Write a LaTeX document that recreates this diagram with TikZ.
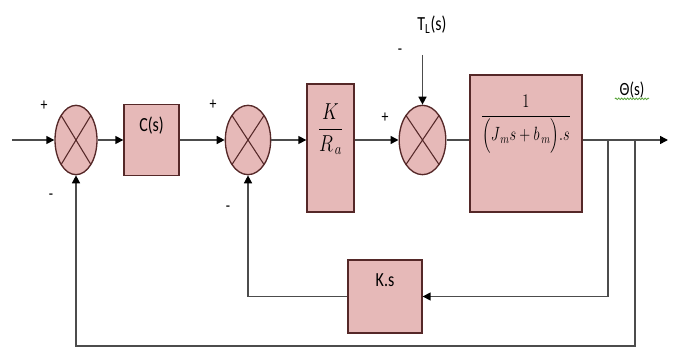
\documentclass[tikz,border=0pt]{standalone}
\usepackage{amsmath}
\usepackage{fontspec}
\setmainfont{Carlito}[FakeStretch=0.8]
\usetikzlibrary{shapes.geometric,arrows.meta,decorations.pathmorphing}
\definecolor{blkfill}{RGB}{230,185,184}
\definecolor{blkline}{RGB}{85,40,40}
\definecolor{wireline}{gray}{0.3}
\definecolor{spellcol}{RGB}{90,165,60}
\tikzset{
  sumj/.style={ellipse,draw=blkline,fill=blkfill,line width=1pt,inner sep=0pt,minimum width=34pt,minimum height=52pt,
    path picture={\draw[blkline,line width=0.8pt] (path picture bounding box.north west) -- (path picture bounding box.south east)
      (path picture bounding box.north east) -- (path picture bounding box.south west);}},
  blk/.style={draw=blkline,fill=blkfill,line width=1pt,inner sep=0pt},
  wire/.style={draw=wireline,line width=1.1pt},
  arr/.style={wire,-{Triangle[length=6pt,width=6pt,color=black]}},
  txt/.style={font=\fontsize{15}{17}\selectfont},
  sgn/.style={font=\fontsize{13}{15}\selectfont},
}
\begin{document}
\begin{tikzpicture}[x=0.75pt,y=-0.75pt]
  \useasboundingbox (0,0) rectangle (678,349);
  \node[sumj,minimum width=31.5pt] (s1) at (76,140) {};
  \node[blk,txt,minimum width=41.25pt,minimum height=53.25pt,text height=9pt,text depth=21.4pt] (cs) at (151.5,140) {C(s)};
  \node[sumj] (s2) at (248,140) {};
  \node[blk,font=\LARGE,minimum width=35.25pt,minimum height=96pt,text height=12pt,text depth=31pt] (kr) at (330.5,148) {\scalebox{0.8}[1]{$\dfrac{K}{R_{\,a}}$}};
  \node[sumj,minimum width=35pt] (s3) at (422.5,140) {};
  \node[blk,font=\Large,minimum width=84pt,minimum height=102.75pt,text height=12pt,text depth=46pt] (plant) at (526,143.5) {\scalebox{0.75}[1]{$\dfrac{1}{\Bigl(J_{\,m}s+b_{\,m}\Bigr).s}$}};
  \node[blk,txt,minimum width=55.5pt,minimum height=54.75pt,text height=9pt,text depth=23.8pt] (ks) at (385,296.5) {K.s};
  \node[txt] (tl) at (432,25) {T\textsubscript{L}(s)};
  \node[font=\fontsize{14}{16}\selectfont] (th) at (632,90) {Θ(s)};
  \draw[spellcol,line width=0.6pt,decorate,decoration={snake,amplitude=0.6pt,segment length=2.2pt}] ([yshift=3pt]th.south west) -- ([yshift=3pt]th.south east);
  \node[sgn] (p1) at (44,106) {+};
  \node[sgn] (m1) at (51,197) {-};
  \node[sgn] (p2) at (213,105) {+};
  \node[sgn] (m2) at (228,209) {-};
  \node[sgn] (p3) at (385,118) {+};
  \node[sgn] (m3) at (400,52) {-};
  \coordinate (in) at (12,140);
  \coordinate (out) at (668,140);
  \coordinate (tlin) at (422.5,55);
  \coordinate (b1) at (608,140);
  \coordinate (b2) at (635,140);
  \coordinate (low) at (635,346);
  \draw[arr] (in) -- (s1);
  \draw[arr] (s1) -- (cs);
  \draw[arr] (cs) -- (s2);
  \draw[arr] (s2) -- (s2 -| kr.west);
  \draw[arr] (kr.east |- s3) -- (s3);
  \draw[wire] (s3) -- (s3 -| plant.west);
  \draw[arr] (plant.east |- s3) -- (out);
  \draw[arr] (tlin) -- (s3);
  \draw[arr] (b1) |- (ks);
  \draw[arr] (ks) -| (s2);
  \draw[arr] (b2) -- (low) -| (s1);
\end{tikzpicture}
\end{document}
